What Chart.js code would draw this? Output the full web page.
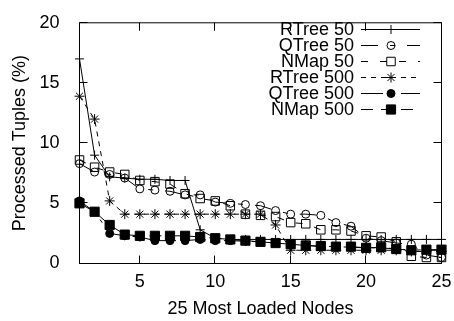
<!DOCTYPE html>
<html>
<head>
<meta charset="utf-8">
<script src="https://cdn.jsdelivr.net/npm/chart.js@4.4.1/dist/chart.umd.min.js"></script>
<style>
  html, body { margin: 0; padding: 0; background: #fff; }
  #wrap { width: 454px; height: 321px; }
</style>
</head>
<body>
<div id="wrap"><canvas id="chart" width="454" height="321"></canvas></div>
<script>
// node rank on the x axis
const nodes = [1, 2, 3, 4, 5, 6, 7, 8, 9, 10, 11, 12, 13, 14, 15, 16, 17, 18, 19, 20, 21, 22, 23, 24, 25];

// processed tuples (%) per series
const rtree50  = [17.0, 9.0, 7.2, 7.1, 7.0, 7.0, 6.9, 6.9, 2.8, 2.1, 2.0, 2.0, 2.0, 2.0, 2.0, 2.0, 2.0, 2.0, 2.0, 2.0, 2.0, 2.0, 2.0, 2.0, 2.0];
const qtree50  = [8.3, 7.6, 7.4, 7.1, 6.2, 6.1, 6.0, 5.7, 5.7, 5.1, 5.0, 4.9, 4.8, 4.4, 4.1, 4.1, 4.0, 3.4, 3.1, 2.1, 1.9, 1.7, 1.6, 0.7, 0.5];
const nmap50   = [8.6, 8.0, 7.6, 7.4, 6.9, 6.8, 6.6, 5.8, 5.4, 5.2, 4.8, 4.1, 4.0, 3.9, 3.4, 3.3, 2.8, 2.8, 2.7, 2.3, 2.2, 1.8, 0.6, 0.5, 0.5];
const rtree500 = [13.9, 12.0, 5.2, 4.1, 4.1, 4.1, 4.1, 4.1, 4.1, 4.1, 4.1, 4.1, 4.1, 3.2, 1.1, 1.1, 1.1, 1.1, 1.1, 1.1, 1.1, 1.1, 1.0, 1.0, 1.0];
const qtree500 = [5.2, 4.3, 2.5, 2.3, 2.2, 1.9, 1.9, 1.9, 2.0, 1.9, 1.9, 1.85, 1.8, 1.7, 1.6, 1.5, 1.4, 1.4, 1.35, 1.3, 1.3, 1.2, 1.1, 1.1, 1.1];
const nmap500  = [5.0, 4.3, 3.2, 2.4, 2.3, 2.3, 2.3, 2.3, 2.2, 2.1, 2.0, 1.9, 1.8, 1.7, 1.6, 1.5, 1.45, 1.4, 1.4, 1.3, 1.35, 1.2, 1.1, 1.15, 1.15];

const seriesNames = ['RTree 50', 'QTree 50', 'NMap 50', 'RTree 500', 'QTree 500', 'NMap 500'];
const xTicks = [5, 10, 15, 20, 25];
const yTicks = [0, 5, 10, 15, 20];

const FONT = { family: '"Liberation Sans", Arial, sans-serif', size: 18 };

function toPoints(values) {
    return nodes.map((n, i) => ({ x: n, y: values[i] }));
}

function makeDataset(label, values, style) {
    return Object.assign({
        label: label,
        data: toPoints(values),
        borderColor: '#000',
        borderWidth: 1,
        pointBorderColor: '#000',
        pointBorderWidth: 1,
        pointHoverRadius: 0,
        tension: 0,
        clip: false
    }, style);
}

// gnuplot-like border with inward ticks on all four sides
const framePlugin = {
    id: 'frame',
    afterDraw(chart) {
        const { ctx, chartArea: a, scales: { x, y } } = chart;
        ctx.save();
        ctx.strokeStyle = '#000';
        ctx.lineWidth = 1;
        ctx.setLineDash([]);
        ctx.strokeRect(a.left, a.top, a.right - a.left, a.bottom - a.top);
        ctx.beginPath();
        xTicks.forEach(t => {
            const px = Math.round(x.getPixelForValue(t)) - 0.5;
            ctx.moveTo(px, a.bottom); ctx.lineTo(px, a.bottom - 8);
            ctx.moveTo(px, a.top); ctx.lineTo(px, a.top + 8);
        });
        yTicks.forEach(t => {
            const py = Math.round(y.getPixelForValue(t)) - 0.5;
            ctx.moveTo(a.left, py); ctx.lineTo(a.left + 8, py);
            ctx.moveTo(a.right, py); ctx.lineTo(a.right - 8, py);
        });
        ctx.stroke();
        ctx.restore();
    }
};

// key in the top right corner: label, then line sample with its marker
const keyPlugin = {
    id: 'key',
    afterDraw(chart) {
        const ctx = chart.ctx;
        ctx.save();
        ctx.font = FONT.size + 'px ' + FONT.family;
        ctx.textAlign = 'right';
        ctx.textBaseline = 'middle';
        chart.data.datasets.forEach((ds, i) => {
            const yy = 29.5 + 16 * i;
            ctx.fillStyle = '#000';
            ctx.fillText(ds.label, 354, yy + 1);
            ctx.strokeStyle = '#000';
            ctx.lineWidth = 1;
            ctx.setLineDash(ds.borderDash || []);
            ctx.beginPath();
            ctx.moveTo(361, yy);
            ctx.lineTo(420, yy);
            ctx.stroke();
            ctx.setLineDash([]);
            ctx.fillStyle = ds.pointBackgroundColor;
            Chart.helpers.drawPoint(ctx, {
                pointStyle: ds.pointStyle,
                radius: ds.pointRadius,
                rotation: 0,
                borderWidth: 1
            }, 391, yy);
        });
        ctx.restore();
    }
};

const ctx = document.getElementById('chart').getContext('2d');
new Chart(ctx, {
    type: 'line',
    data: {
        datasets: [
            makeDataset(seriesNames[0], rtree50, { pointStyle: 'cross', pointRadius: 4.5, pointBackgroundColor: '#000' }),
            makeDataset(seriesNames[1], qtree50, { pointStyle: 'circle', pointRadius: 4, pointBackgroundColor: 'rgba(0,0,0,0)', borderDash: [17, 12, 5, 12] }),
            makeDataset(seriesNames[2], nmap50, { pointStyle: 'rect', pointRadius: 6, pointBackgroundColor: 'rgba(0,0,0,0)', borderDash: [7, 12] }),
            makeDataset(seriesNames[3], rtree500, { pointStyle: 'star', pointRadius: 5, pointBackgroundColor: '#000', borderDash: [5, 5] }),
            makeDataset(seriesNames[4], qtree500, { pointStyle: 'circle', pointRadius: 4, pointBackgroundColor: '#000', borderDash: [22, 6, 4, 8] }),
            makeDataset(seriesNames[5], nmap500, { pointStyle: 'rect', pointRadius: 6.5, pointBackgroundColor: '#000', borderDash: [12, 8] })
        ]
    },
    options: {
        responsive: false,
        animation: false,
        events: [],
        layout: {
            padding: { top: 11.5, right: 12.5, left: 0, bottom: 0 }
        },
        plugins: {
            legend: { display: false },
            tooltip: { enabled: false }
        },
        scales: {
            x: {
                type: 'linear',
                min: 1,
                max: 25,
                afterBuildTicks: scale => { scale.ticks = xTicks.map(v => ({ value: v })); },
                afterFit: scale => { scale.height = 57.5; },
                grid: { display: false },
                border: { display: false },
                ticks: { color: '#000', font: FONT, padding: 0, maxRotation: 0 },
                title: {
                    display: true,
                    text: '25 Most Loaded Nodes',
                    color: '#000',
                    font: FONT,
                    padding: { top: 0, bottom: 1 }
                }
            },
            y: {
                min: 0,
                max: 20,
                afterBuildTicks: scale => { scale.ticks = yTicks.map(v => ({ value: v })); },
                afterFit: scale => { scale.width = 79.5; },
                grid: { display: false },
                border: { display: false },
                ticks: { color: '#000', font: FONT, padding: 12 },
                title: {
                    display: true,
                    text: 'Processed Tuples (%)',
                    color: '#000',
                    font: FONT,
                    padding: { top: 9, bottom: 0 }
                }
            }
        }
    },
    plugins: [framePlugin, keyPlugin]
});
</script>
</body>
</html>
